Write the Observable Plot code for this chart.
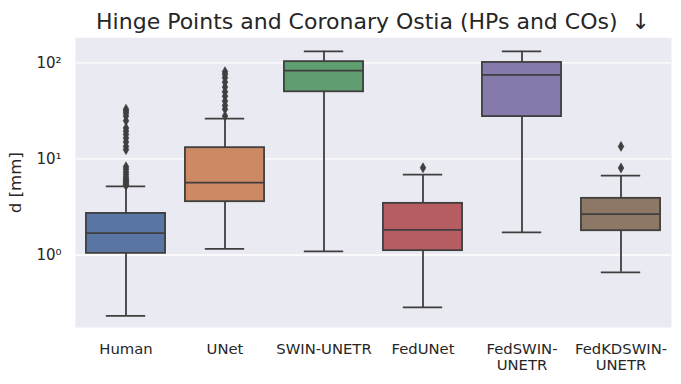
<!DOCTYPE html>
<html>
<head>
<meta charset="utf-8">
<script src="https://cdn.jsdelivr.net/npm/d3@7"></script>
<script src="https://cdn.jsdelivr.net/npm/@observablehq/plot@0.6"></script>
<style>
  body { margin: 0; background: #fff; font-family: "DejaVu Sans", sans-serif; }
  #wrap { width: 681px; position: relative; }
  #title { height: 37px; position: relative; }
  #title span { position: absolute; left: 75px; right: 10px; top: 11px; text-align: center;
    font-size: 22px; color: #262626; white-space: pre; line-height: 1; }
  svg [aria-label="y-axis label"] { font-size: 16.7px; }
</style>
</head>
<body>
<div id="wrap">
  <div id="title"><span>Hinge Points and Coronary Ostia (HPs and COs)  ↓</span></div>
  <div id="chart"></div>
</div>
<script>
const categories = ["Human", "UNet", "SWIN-UNETR", "FedUNet", "FedSWIN-UNETR", "FedKDSWIN-UNETR"];
const tickLabels = ["Human", "UNet", "SWIN-UNETR", "FedUNet", "FedSWIN-\nUNETR", "FedKDSWIN-\nUNETR"];
const colors = ["#5975a4", "#cc8963", "#5f9e6e", "#b55d60", "#857aab", "#8d7866"];
const whiskerLow  = [0.233, 1.16, 1.09, 0.285, 1.72, 0.66];
const q1          = [1.04, 3.59, 50, 1.11, 27.6, 1.79];
const median      = [1.69, 5.66, 83, 1.83, 75, 2.67];
const q3          = [2.71, 13.1, 103, 3.45, 101, 3.89];
const whiskerHigh = [5.18, 26.3, 132, 6.86, 132, 6.7];
const outliersHuman = [33, 31.5, 30, 28, 25, 21, 19.5, 18, 16.5, 15, 13.5, 12.5, 8.3, 7.8, 7.3, 6.9, 6.5, 6.2, 6.0, 5.8, 5.6, 5.45, 5.3];
const outliersUNet = [81, 76, 70, 63, 56, 50, 45, 40, 36, 33, 28];
const outliersFedUNet = [8.1];
const outliersFedKD = [8.06, 13.5];
const yTicks = [1, 10, 100];
const yTickLabels = ["10⁰", "10¹", "10²"];

const boxes = categories.map((c, i) => ({
  cat: c, lo: whiskerLow[i], q1: q1[i], med: median[i], q3: q3[i], hi: whiskerHigh[i], color: colors[i]
}));
const outliers = [
  ...outliersHuman.map(v => ({cat: "Human", v})),
  ...outliersUNet.map(v => ({cat: "UNet", v})),
  ...outliersFedUNet.map(v => ({cat: "FedUNet", v})),
  ...outliersFedKD.map(v => ({cat: "FedKDSWIN-UNETR", v}))
];

const W = 681, H = 347;
const band = (W - 75 - 10) / categories.length;
const boxInset = band * 0.1;
const capInset = (band - band * 0.4) / 2;
const lineColor = "#3f3f3f";
const lw = 1.8;

const chart = Plot.plot({
  width: W, height: H,
  marginLeft: 75, marginRight: 10, marginTop: 0.3, marginBottom: 57,
  style: { fontFamily: "DejaVu Sans", fontSize: "15px", color: "#262626", background: "transparent" },
  x: { domain: categories, padding: 0 },
  y: { type: "log", domain: [0.176, 182.4] },
  marks: [
    Plot.frame({ fill: "#eaeaf2", stroke: "none" }),
    Plot.ruleY(yTicks, { stroke: "white", strokeWidth: 1.3 }),
    Plot.axisY({ ticks: yTicks, tickFormat: d => yTickLabels[yTicks.indexOf(d)], tickSize: 0, tickPadding: 14,
      label: "d [mm]", labelAnchor: "center", labelArrow: "none", labelOffset: 66 }),
    Plot.axisX({ tickFormat: d => tickLabels[categories.indexOf(d)], tickSize: 0, tickPadding: 15, label: null, lineHeight: 1.1, fontSize: 14.8 }),
    Plot.ruleX(boxes, { x: "cat", y1: "lo", y2: "q1", stroke: lineColor, strokeWidth: lw }),
    Plot.ruleX(boxes, { x: "cat", y1: "q3", y2: "hi", stroke: lineColor, strokeWidth: lw }),
    Plot.tickY(boxes, { x: "cat", y: "lo", stroke: lineColor, strokeWidth: lw, insetLeft: capInset, insetRight: capInset }),
    Plot.tickY(boxes, { x: "cat", y: "hi", stroke: lineColor, strokeWidth: lw, insetLeft: capInset, insetRight: capInset }),
    Plot.barY(boxes, { x: "cat", y1: "q1", y2: "q3", fill: "color", stroke: lineColor, strokeWidth: lw, insetLeft: boxInset, insetRight: boxInset }),
    Plot.tickY(boxes, { x: "cat", y: "med", stroke: lineColor, strokeWidth: lw, insetLeft: boxInset, insetRight: boxInset }),
    Plot.dot(outliers, { x: "cat", y: "v", symbol: "diamond", r: 3, fill: lineColor, stroke: lineColor, strokeWidth: 0.6 })
  ]
});
document.getElementById("chart").appendChild(chart);
</script>
</body>
</html>
